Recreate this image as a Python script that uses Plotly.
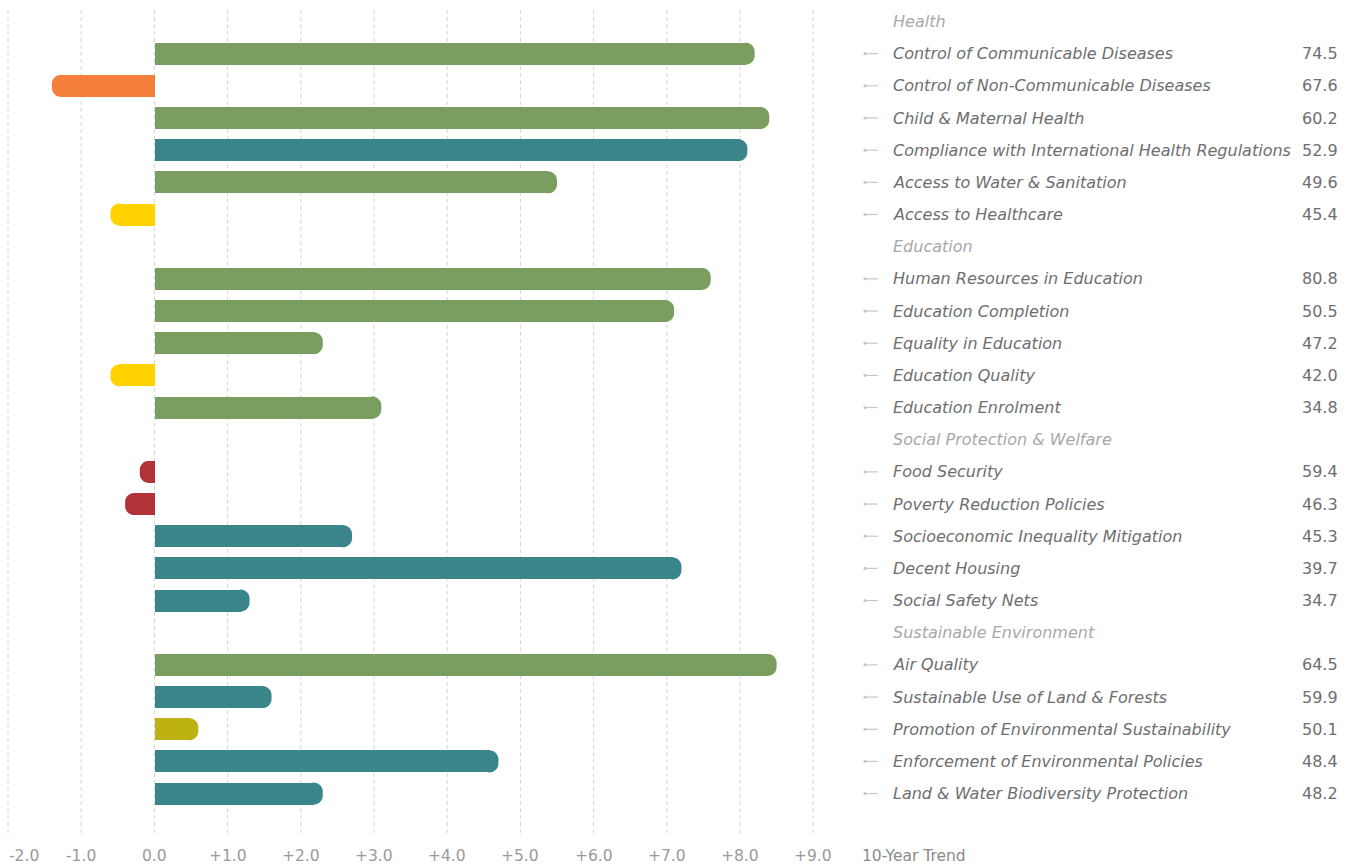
import math
import plotly.graph_objects as go

# ---- data -------------------------------------------------------------
groups = ["Health", "Education", "Social Protection & Welfare", "Sustainable Environment"]

indicators = [
    ["Control of Communicable Diseases", "Control of Non-Communicable Diseases",
     "Child & Maternal Health", "Compliance with International Health Regulations",
     "Access to Water & Sanitation", "Access to Healthcare"],
    ["Human Resources in Education", "Education Completion", "Equality in Education",
     "Education Quality", "Education Enrolment"],
    ["Food Security", "Poverty Reduction Policies", "Socioeconomic Inequality Mitigation",
     "Decent Housing", "Social Safety Nets"],
    ["Air Quality", "Sustainable Use of Land & Forests",
     "Promotion of Environmental Sustainability", "Enforcement of Environmental Policies",
     "Land & Water Biodiversity Protection"],
]

scores = [
    [74.5, 67.6, 60.2, 52.9, 49.6, 45.4],
    [80.8, 50.5, 47.2, 42.0, 34.8],
    [59.4, 46.3, 45.3, 39.7, 34.7],
    [64.5, 59.9, 50.1, 48.4, 48.2],
]

trends = [
    [8.2, -1.4, 8.4, 8.1, 5.5, -0.6],
    [7.6, 7.1, 2.3, -0.6, 3.1],
    [-0.2, -0.4, 2.7, 7.2, 1.3],
    [8.5, 1.6, 0.6, 4.7, 2.3],
]

trend_class = [
    ["up", "down", "up", "steady_up", "up", "slight_down"],
    ["up", "up", "up", "slight_down", "up"],
    ["down_red", "down_red", "steady_up", "steady_up", "steady_up"],
    ["up", "steady_up", "slight_up", "steady_up", "steady_up"],
]

tick_values = [-2, -1, 0, 1, 2, 3, 4, 5, 6, 7, 8, 9]
tick_labels = ["-2.0", "-1.0", "0.0", "+1.0", "+2.0", "+3.0", "+4.0",
               "+5.0", "+6.0", "+7.0", "+8.0", "+9.0"]
axis_title = "10-Year Trend"

# ---- styling ----------------------------------------------------------
CLASS_COLORS = {
    "up": "#7a9e5f",
    "steady_up": "#3a8589",
    "slight_up": "#bdb212",
    "slight_down": "#ffd200",
    "down": "#f47f3c",
    "down_red": "#b13238",
}
W, H = 1353, 865
FONT = "DejaVu Sans"
TEXT_SIZE = 16
LABEL_COLOR = "#6d6e70"
HEADER_COLOR = "#a6a8ab"
TICK_COLOR = "#9a9a9a"

X_RANGE = [-2.1, 9.5]
X_DOM_PX = [0.68, 849.8]
PX_PER_UNIT = (X_DOM_PX[1] - X_DOM_PX[0]) / (X_RANGE[1] - X_RANGE[0])

ROW0_PX, ROW_STEP = 21.5, 32.17
Y_RANGE = [(H - ROW0_PX) / ROW_STEP, -ROW0_PX / ROW_STEP]

BAR_H_PX = 22
CAP_R = 9  # corner radius of the bar tip, px

# ---- layout of rows ---------------------------------------------------
rows = []  # (kind, text, score, trend, cls)
for g, names, sc, tr, cl in zip(groups, indicators, scores, trends, trend_class):
    rows.append(("header", g, None, None, None))
    for n, s, t, c in zip(names, sc, tr, cl):
        rows.append(("item", n, s, t, c))

fig = go.Figure()
shapes, annotations = [], []


def text_note(x, y, text, color, anchor="left", xref="paper", yref="y", size=TEXT_SIZE, **kw):
    return dict(x=x, xref=xref, y=y, yref=yref, text=text, showarrow=False,
                xanchor=anchor, yanchor="middle", borderpad=0,
                font=dict(family=FONT, size=size, color=color), **kw)


bar_y, bar_x, bar_c = [], [], []
for i, (kind, text, score, trend, cls) in enumerate(rows):
    if kind == "header":
        annotations.append(text_note(892 / W, i, f"<i>{text}</i>", HEADER_COLOR))
        continue
    # label, value and the little pointer
    annotations.append(text_note(892 / W, i, f"<i>{text}</i>", LABEL_COLOR))
    annotations.append(text_note(1339 / W, i, f"{score:.1f}", LABEL_COLOR, anchor="right"))
    shapes.append(dict(type="line", xref="paper", yref="y",
                       x0=866 / W, x1=878 / W, y0=i, y1=i,
                       line=dict(color="#c8c8c8", width=1.2)))
    shapes.append(dict(type="circle", xref="paper", yref="y",
                       xsizemode="pixel", ysizemode="pixel",
                       xanchor=865 / W, yanchor=i,
                       x0=-1.6, x1=1.6, y0=-1.6, y1=1.6,
                       fillcolor="#c8c8c8", line=dict(width=0)))

    # bar body stops CAP_R px short of the value; the rounded tip fills the rest
    sgn = 1 if trend >= 0 else -1
    bar_y.append(i)
    bar_x.append(trend - sgn * CAP_R / PX_PER_UNIT)
    bar_c.append(CLASS_COLORS[cls])

    h = BAR_H_PX / 2
    pts = [(-CAP_R - 1, -h)]
    for k in range(0, 13):
        a = -math.pi / 2 + (math.pi / 2) * k / 12
        pts.append((-CAP_R + CAP_R * math.cos(a), -h + CAP_R + CAP_R * math.sin(a)))
    for k in range(0, 13):
        a = (math.pi / 2) * k / 12
        pts.append((-CAP_R + CAP_R * math.cos(a), h - CAP_R + CAP_R * math.sin(a)))
    pts.append((-CAP_R - 1, h))
    pts = [(sgn * px, py) for px, py in pts]
    path = "M " + " L ".join(f"{px:.2f},{py:.2f}" for px, py in pts) + " Z"
    shapes.append(dict(type="path", xref="x", yref="y",
                       xsizemode="pixel", ysizemode="pixel",
                       xanchor=trend, yanchor=i, path=path,
                       fillcolor=CLASS_COLORS[cls], line=dict(width=0),
                       layer="above"))

fig.add_trace(go.Bar(
    x=bar_x, y=bar_y, base=0, orientation="h",
    width=BAR_H_PX / ROW_STEP, marker=dict(color=bar_c, line=dict(width=0)),
    hoverinfo="skip", showlegend=False))

# dashed gridlines and tick labels
TICK_Y = 1 - 856 / H
for v, lab in zip(tick_values, tick_labels):
    shapes.append(dict(type="line", xref="x", yref="paper", x0=v, x1=v,
                       y0=1 - 10 / H, y1=1 - 835 / H, layer="below",
                       line=dict(color="#d4d4d4", width=1, dash="4px,3px")))
    annotations.append(text_note(v, TICK_Y, lab, TICK_COLOR, anchor="center",
                                 xref="x", yref="paper", size=15.5,
                                 xshift=16 if v == tick_values[0] else 0))
annotations.append(text_note(861 / W, TICK_Y, axis_title, "#8a8a8a",
                             yref="paper", size=15.5))

fig.update_layout(
    width=W, height=H, margin=dict(l=0, r=0, t=0, b=0),
    paper_bgcolor="white", plot_bgcolor="white",
    xaxis=dict(range=X_RANGE, domain=[X_DOM_PX[0] / W, X_DOM_PX[1] / W],
               showgrid=False, zeroline=False, showticklabels=False, fixedrange=True),
    yaxis=dict(range=Y_RANGE, domain=[0, 1], showgrid=False, zeroline=False,
               showticklabels=False, fixedrange=True),
    shapes=shapes, annotations=annotations, bargap=0,
)

fig.write_html("out.html")
